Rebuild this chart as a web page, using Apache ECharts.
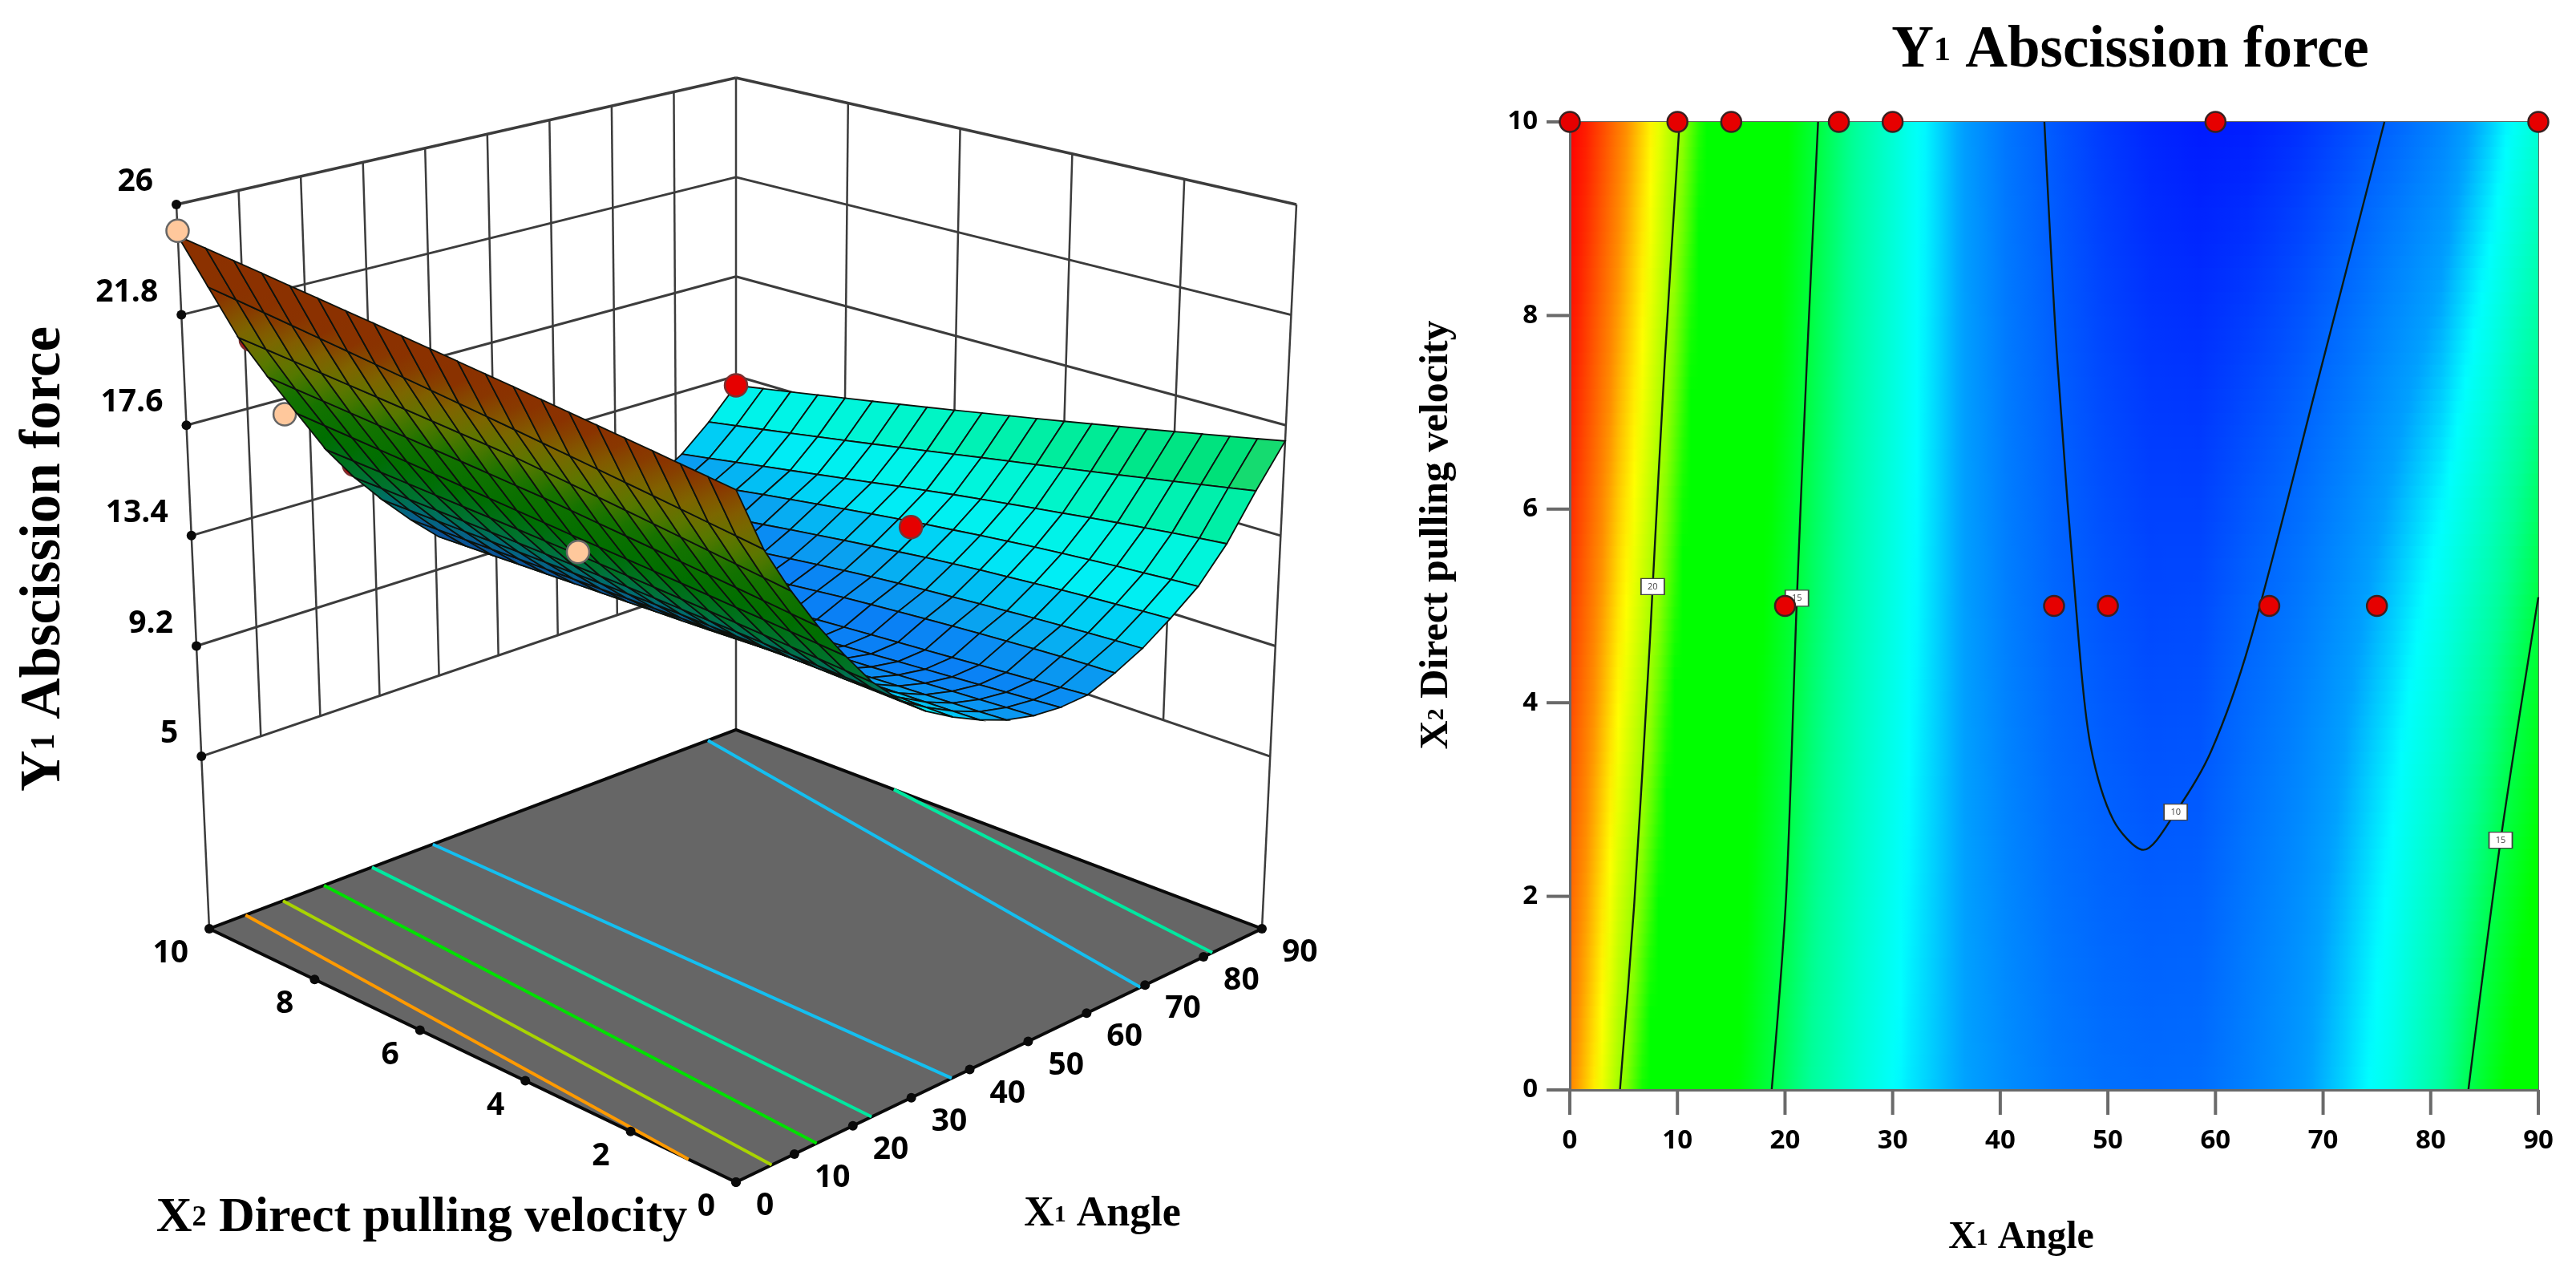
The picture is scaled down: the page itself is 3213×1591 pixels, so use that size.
<!DOCTYPE html>
<html><head><meta charset="utf-8"><style>html,body{margin:0;padding:0;background:#fff}#c{width:3213px;height:1591px}</style>
<script src="https://cdn.jsdelivr.net/npm/echarts@6/dist/echarts.min.js"></script></head><body><div id="c"></div>
<script>
// ---------- data ----------
const x1Ticks=[0,10,20,30,40,50,60,70,80,90];
const x2Ticks=[0,2,4,6,8,10];
const zTicks=[5,9.2,13.4,17.6,21.8,26];
const gridX1=[0,4.5,9,13.5,18,22.5,27,31.5,36,40.5,45,49.5,54,58.5,63,67.5,72,76.5,81,85.5,90];
const gridX2=[0,.5,1,1.5,2,2.5,3,3.5,4,4.5,5,5.5,6,6.5,7,7.5,8,8.5,9,9.5,10];
// one list per X1 value, running through gridX2
const surfaceZ=[
[22.40,22.52,22.64,22.76,22.88,23.00,23.12,23.24,23.36,23.48,23.60,23.72,23.84,23.96,24.08,24.20,24.32,24.44,24.56,24.68,24.80],
[20.00,20.13,20.26,20.39,20.52,20.65,20.78,20.91,21.04,21.17,21.30,21.43,21.56,21.69,21.82,21.95,22.08,22.21,22.34,22.47,22.60],
[18.20,18.33,18.46,18.59,18.72,18.85,18.98,19.11,19.24,19.37,19.50,19.59,19.68,19.77,19.86,19.95,20.04,20.13,20.22,20.31,20.40],
[16.60,16.71,16.82,16.93,17.04,17.15,17.26,17.37,17.48,17.59,17.70,17.79,17.88,17.97,18.06,18.15,18.24,18.33,18.42,18.51,18.60],
[15.20,15.28,15.36,15.44,15.52,15.60,15.68,15.76,15.84,15.92,16.00,16.09,16.18,16.27,16.36,16.45,16.54,16.63,16.72,16.81,16.90],
[13.90,13.97,14.04,14.11,14.18,14.25,14.32,14.39,14.46,14.53,14.60,14.66,14.72,14.78,14.84,14.90,14.96,15.02,15.08,15.14,15.20],
[12.90,12.95,13.00,13.05,13.10,13.15,13.20,13.25,13.30,13.35,13.40,13.44,13.48,13.52,13.56,13.60,13.64,13.68,13.72,13.76,13.80],
[12.10,12.13,12.16,12.19,12.22,12.25,12.28,12.31,12.34,12.37,12.40,12.42,12.44,12.46,12.48,12.50,12.52,12.54,12.56,12.58,12.60],
[11.50,11.50,11.50,11.50,11.50,11.50,11.50,11.50,11.50,11.50,11.50,11.50,11.50,11.50,11.50,11.50,11.50,11.50,11.50,11.50,11.50],
[11.00,10.97,10.94,10.91,10.88,10.85,10.82,10.79,10.76,10.73,10.70,10.68,10.66,10.64,10.62,10.60,10.58,10.56,10.54,10.52,10.50],
[10.60,10.55,10.51,10.46,10.42,10.37,10.33,10.28,10.24,10.19,10.15,10.12,10.09,10.06,10.03,10.00,9.97,9.94,9.91,9.88,9.85],
[10.35,10.30,10.24,10.19,10.13,10.08,10.02,9.97,9.91,9.86,9.80,9.75,9.70,9.65,9.60,9.55,9.50,9.45,9.40,9.35,9.30],
[10.25,10.18,10.11,10.04,9.97,9.90,9.83,9.76,9.69,9.62,9.55,9.49,9.42,9.36,9.29,9.23,9.16,9.10,9.03,8.97,8.90],
[10.30,10.23,10.16,10.09,10.02,9.95,9.88,9.81,9.74,9.67,9.60,9.51,9.42,9.33,9.24,9.15,9.06,8.97,8.88,8.79,8.70],
[10.70,10.67,10.63,10.58,10.52,10.46,10.39,10.32,10.24,10.16,10.07,9.96,9.85,9.73,9.60,9.47,9.33,9.19,9.05,8.90,8.75],
[11.20,11.16,11.11,11.05,10.99,10.92,10.85,10.77,10.69,10.60,10.50,10.39,10.27,10.14,10.01,9.87,9.73,9.58,9.42,9.24,9.05],
[11.90,11.85,11.79,11.73,11.66,11.58,11.50,11.42,11.32,11.22,11.10,10.98,10.85,10.71,10.57,10.42,10.27,10.10,9.93,9.75,9.55],
[12.70,12.64,12.57,12.50,12.42,12.34,12.25,12.15,12.04,11.92,11.80,11.67,11.53,11.38,11.23,11.07,10.91,10.74,10.56,10.33,10.10],
[13.90,13.80,13.69,13.57,13.45,13.32,13.18,13.04,12.90,12.75,12.60,12.43,12.26,12.08,11.90,11.72,11.54,11.36,11.17,10.98,10.80],
[15.50,15.32,15.14,14.96,14.78,14.60,14.42,14.24,14.06,13.88,13.70,13.51,13.32,13.13,12.94,12.75,12.56,12.37,12.18,11.99,11.80],
[17.00,16.80,16.60,16.40,16.20,16.00,15.80,15.60,15.40,15.20,15.00,14.80,14.60,14.40,14.20,14.00,13.80,13.60,13.40,13.20,13.00]];
// floor contours of the 3D panel: [X1, X2]
const floorOrange=[[0,0.9],[6.2,10]];
const floorLime=[[6.1,0],[12.6,10]];
const floorGreen=[[13.8,0],[19.6,10]];
const floorTeal=[[23.2,0],[27.8,10]];
const floorSky=[[36.9,0],[38.2,10]];
const floorSky2=[[69.2,0],[85.2,10]];
const floorTeal2=[[81.5,0],[90,7]];
// design points in 3D: [X1, X2, Z]
const behindRed=[[11,10,20.2],[27,10,14.3]];
const behindPeach=[[16,10,17]];
const frontPeach=[[0,10,25],[19,5,15.3]];
const frontRed=[[90,10,13],[74,5,11.9]];
// contour panel
const contour20=[[10.2,10],[8.83,7.54],[7.7,5.2],[7.44,4.63],[5.98,1.91],[4.66,0]];
const contour15L=[[23.07,10],[22,7.45],[21.1,5.08],[20.1,2],[18.76,0]];
const contour10=[[44.1,10],[45.3,7.54],[47.3,4.63],[48.4,3.55],[50.5,2.79],[53.3,2.48],[56.3,2.87],[59.6,3.5],[63.2,4.63],[69.45,7.3],[75.7,10]];
const contour15R=[[90,5.09],[86.5,2.58],[83.5,0]];
const contourLabels=[[7.7,5.2,'20'],[21.1,5.08,'15'],[56.3,2.87,'10'],[86.5,2.58,'15']];
const designPoints=[[0,10],[10,10],[15,10],[25,10],[30,10],[60,10],[90,10],[20,5],[45,5],[50,5],[65,5],[75,5]];
// colour scales: Z value -> colour
const scaleZ=[8.5,10,11.4,12.3,14,15,16,19,19.8,21,22.2,24,24.8];
const scaleRGB=[[0,16,255],[0,96,255],[0,160,255],[0,255,255],[0,255,150],[0,255,64],[0,255,0],[0,255,0],[144,255,0],[255,255,0],[255,144,0],[255,32,0],[255,0,0]];
const topZ=[10,10.6,11.3,12,13,14,15,16,16.6,17];
const topRGB=[[10,128,245],[10,160,240],[0,200,245],[0,238,245],[0,245,229],[0,245,192],[0,235,150],[0,225,120],[80,200,90],[160,190,70]];
const underZ=[10,11.5,12.8,14,16,18,19.5,21,22.5,25];
const underRGB=[[10,70,150],[10,90,150],[0,110,110],[0,115,50],[0,110,0],[20,115,0],[90,120,0],[128,100,0],[138,50,0],[140,48,0]];

// ---------- helpers ----------
const zFloor=-1.56, zTop=26;
const F0=[918,1474],L0=[261,1158],R0=[1574,1158],B0=[918,910];
const F1=[918,481],L1=[220,255],R1=[1617,255],B1=[918,97];
function blin(f,l,r,b,u,v,k){return f[k]*(1-u)*(1-v)+r[k]*u*(1-v)+l[k]*(1-u)*v+b[k]*u*v;}
function project(x1,x2,z){
  const u=x1/90,v=x2/10,h=(z-zFloor)/(zTop-zFloor);
  return [0,1].map(k=>blin(F0,L0,R0,B0,u,v,k)*(1-h)+blin(F1,L1,R1,B1,u,v,k)*h);
}
function ramp(zs,cs,z){
  if(z<=zs[0])return cs[0];
  for(let i=1;i<zs.length;i++){if(z<=zs[i]){const t=(z-zs[i-1])/(zs[i]-zs[i-1]);
    return cs[i].map((c,k)=>cs[i-1][k]+(c-cs[i-1][k])*t);}}
  return cs[cs.length-1];
}
const css=c=>`rgb(${Math.round(c[0])},${Math.round(c[1])},${Math.round(c[2])})`;
const LAB='"Open Sans",Roboto,sans-serif', SER='"Liberation Serif",serif';
const base3D={type:'custom',xAxisIndex:0,yAxisIndex:0,silent:true,animation:false};

// wall grid segments [x1a,x2a,za,x1b,x2b,zb,width]
const segs=[];
zTicks.forEach(z=>{segs.push([0,10,z,90,10,z,z===26?3.5:3]);segs.push([90,10,z,90,0,z,z===26?3.5:3]);});
x1Ticks.forEach(x=>{if(x>0&&x<90)segs.push([x,10,5,x,10,26,2.5]);});
x2Ticks.forEach(x=>{if(x>0&&x<10)segs.push([90,x,5,90,x,26,2.5]);});
[[0,10],[90,10],[90,0]].forEach(p=>segs.push([p[0],p[1],zFloor,p[0],p[1],26,2.5]));

const floorLines=[[floorOrange,'#ff9a00'],[floorLime,'#a8d400'],[floorGreen,'#00e000'],[floorTeal,'#00e8a0'],[floorSky,'#14bff0'],[floorSky2,'#14bff0'],[floorTeal2,'#00e8a0']];

const quads=[];
for(let i=gridX1.length-2;i>=0;i--)for(let j=gridX2.length-2;j>=0;j--)quads.push([i,j]);

function pts(api,list){return list.map(p=>api.coord(project(p[0],p[1],p[2])));}
function mark3D(list,fill,stroke){return Object.assign({},base3D,{data:list,renderItem:(p,api)=>{
  const c=api.coord(project(api.value(0),api.value(1),api.value(2)));
  return {type:'circle',shape:{cx:c[0],cy:c[1],r:14},style:{fill:fill,stroke:stroke,lineWidth:2.5}};}});}

// tick labels of the 3D box
const tickLabels=[];
zTicks.forEach(z=>tickLabels.push([0,10,z,-29,-28,'right',String(z)]));
x2Ticks.forEach(x=>tickLabels.push([0,x,zFloor,-26,31,'right',String(x)]));
x1Ticks.forEach(x=>tickLabels.push([x,0,zFloor,25,30,'left',String(x)]));
const tickDots=[];
zTicks.forEach(z=>tickDots.push([0,10,z]));
x2Ticks.forEach(x=>tickDots.push([0,x,zFloor]));
x1Ticks.forEach(x=>tickDots.push([x,0,zFloor]));

// colour strips of the contour panel
const stripCount=80,strips=[];
for(let s=0;s<stripCount;s++)strips.push([s/stripCount*10,(s+1)/stripCount*10]);
function zBetween(i,x2){const t=x2/0.5,j=Math.min(Math.floor(t),19),f=t-j;return surfaceZ[i][j]*(1-f)+surfaceZ[i][j+1]*f;}

// outward ticks of the contour panel: [X1, X2, dx, dy]
const panelTicks=[...x1Ticks.map(x=>[x,0,0,31]),...x2Ticks.map(y=>[0,y,-29,0])];

const option={backgroundColor:'#fff',animation:false,
 grid:[{left:0,top:0,width:3213,height:1591,show:false},
       {left:1958,top:152,width:1208,height:1207,show:true,borderColor:'#666',borderWidth:2,backgroundColor:'transparent',outerBoundsMode:'none'}],
 xAxis:[{gridIndex:0,type:'value',min:0,max:3213,show:false},
  {gridIndex:1,type:'value',position:'bottom',min:0,max:90,interval:10,splitLine:{show:false},z:6,
   axisLine:{show:true,onZero:false,lineStyle:{color:'#6a6a6a',width:3}},axisTick:{show:false},
   axisLabel:{show:true,margin:47,color:'#000',fontFamily:LAB,fontWeight:700,fontSize:33}}],
 yAxis:[{gridIndex:0,type:'value',min:0,max:1591,inverse:true,show:false},
  {gridIndex:1,type:'value',position:'left',min:0,max:10,interval:2,splitLine:{show:false},z:6,
   axisLine:{show:true,onZero:false,lineStyle:{color:'#6a6a6a',width:3}},axisTick:{show:false},
   axisLabel:{show:true,margin:40,color:'#000',fontFamily:LAB,fontWeight:700,fontSize:33}}],
 series:[
  // walls
  Object.assign({},base3D,{data:segs,renderItem:(p,api)=>{
    const a=api.coord(project(api.value(0),api.value(1),api.value(2))),b=api.coord(project(api.value(3),api.value(4),api.value(5)));
    return {type:'line',shape:{x1:a[0],y1:a[1],x2:b[0],y2:b[1]},style:{stroke:'#3c3c3c',lineWidth:api.value(6)}};}}),
  // floor
  Object.assign({},base3D,{data:[[0]],renderItem:(p,api)=>({type:'polygon',shape:{points:pts(api,[[0,0,zFloor],[90,0,zFloor],[90,10,zFloor],[0,10,zFloor]])},style:{fill:'#666666',stroke:'#0a0a0a',lineWidth:4}})}),
  // floor contours
  Object.assign({},base3D,{data:floorLines.map((l,i)=>[i]),renderItem:(p,api)=>{
    const l=floorLines[api.value(0)];
    return {type:'polyline',shape:{points:pts(api,l[0].map(q=>[q[0],q[1],zFloor]))},style:{stroke:l[1],lineWidth:4,fill:'none'}};}}),
  // ticks
  Object.assign({},base3D,{data:tickDots,renderItem:(p,api)=>{
    const c=api.coord(project(api.value(0),api.value(1),api.value(2)));
    return {type:'circle',shape:{cx:c[0],cy:c[1],r:6},style:{fill:'#0a0a0a'}};}}),
  Object.assign({},base3D,{data:tickLabels.map((t,i)=>[i]),renderItem:(p,api)=>{
    const t=tickLabels[api.value(0)],c=api.coord(project(t[0],t[1],t[2]));
    return {type:'text',style:{x:c[0]+t[3],y:c[1]+t[4],text:t[6],fill:'#000',font:'700 39px '+LAB,align:t[5],textAlign:t[5],verticalAlign:'middle',textVerticalAlign:'middle'}};}}),
  // points behind the surface
  mark3D(behindRed,'#e60000','#7a3030'),
  mark3D(behindPeach,'#ffc89c','#666'),
  // surface, far cells first
  Object.assign({},base3D,{data:quads,renderItem:(p,api)=>{
    const i=api.value(0),j=api.value(1);
    const q=[[i,j],[i+1,j],[i+1,j+1],[i,j+1]].map(k=>api.coord(project(gridX1[k[0]],gridX2[k[1]],surfaceZ[k[0]][k[1]])));
    let area=0;for(let k=0;k<4;k++){const a=q[k],b=q[(k+1)%4];area+=a[0]*b[1]-b[0]*a[1];}
    const z=(surfaceZ[i][j]+surfaceZ[i+1][j]+surfaceZ[i+1][j+1]+surfaceZ[i][j+1])/4;
    let fill;
    if(area>0){
      const z0=(surfaceZ[i][j]+surfaceZ[i][j+1])/2,z1=(surfaceZ[i+1][j]+surfaceZ[i+1][j+1])/2,stops=[];
      for(let s=0;s<=4;s++)stops.push({offset:s/4,color:css(ramp(underZ,underRGB,z0+(z1-z0)*s/4))});
      fill=new echarts.graphic.LinearGradient((q[0][0]+q[3][0])/2,(q[0][1]+q[3][1])/2,(q[1][0]+q[2][0])/2,(q[1][1]+q[2][1])/2,stops,true);
    } else fill=css(ramp(topZ,topRGB,z));
    return {type:'polygon',shape:{points:q},style:{fill:fill,stroke:'#0d120d',lineWidth:1.8}};}}),
  // points in front
  mark3D(frontPeach,'#ffc89c','#666'),
  mark3D(frontRed,'#e60000','#7a3030'),
  // contour panel: colour field
  {type:'custom',xAxisIndex:1,yAxisIndex:1,silent:true,animation:false,z:1,data:strips,renderItem:(p,api)=>{
    const lo=api.value(0),hi=api.value(1),a=api.coord([0,hi]),b=api.coord([90,lo]),mid=(lo+hi)/2,stops=[];
    for(let i=0;i<gridX1.length-1;i++){
      const z0=zBetween(i,mid),z1=zBetween(i+1,mid);
      for(let s=0;s<6;s++){const f=s/6;stops.push({offset:(gridX1[i]+4.5*f)/90,color:css(ramp(scaleZ,scaleRGB,z0*(1-f)+z1*f))});}
    }
    stops.push({offset:1,color:css(ramp(scaleZ,scaleRGB,zBetween(20,mid)))});
    return {type:'rect',shape:{x:a[0],y:a[1],width:b[0]-a[0],height:b[1]-a[1]+1},style:{fill:new echarts.graphic.LinearGradient(0,0,1,0,stops)}};}},
  // contour panel: ticks
  {type:'custom',xAxisIndex:1,yAxisIndex:1,silent:true,animation:false,z:20,clip:false,data:panelTicks,renderItem:(p,api)=>{
    const c=api.coord([api.value(0),api.value(1)]);
    const d=[panelTicks[p.dataIndex][2],panelTicks[p.dataIndex][3]];
    return {type:'polygon',shape:{points:[[c[0]-(d[1]?2:0),c[1]-(d[0]?2:0)],[c[0]+(d[1]?2:0),c[1]+(d[0]?2:0)],[c[0]+d[0]+(d[1]?2:0),c[1]+d[1]+(d[0]?2:0)],[c[0]+d[0]-(d[1]?2:0),c[1]+d[1]-(d[0]?2:0)]]},style:{fill:'#6a6a6a'}};}},
  ...[contour20,contour15L,contour10,contour15R].map(d=>({type:'line',xAxisIndex:1,yAxisIndex:1,data:d,smooth:0.3,showSymbol:false,silent:true,z:3,clip:false,lineStyle:{color:'#0c1c14',width:2.4}})),
  {type:'scatter',xAxisIndex:1,yAxisIndex:1,data:contourLabels,symbol:'rect',symbolSize:[29,20],silent:true,z:7,clip:false,
   itemStyle:{color:'#fff',opacity:1,borderColor:'#444',borderWidth:1.5},label:{show:true,position:'inside',formatter:p=>p.value[2],fontSize:11,color:'#444',fontFamily:LAB}},
  {type:'scatter',xAxisIndex:1,yAxisIndex:1,data:designPoints,symbol:'circle',symbolSize:25,silent:true,z:21,clip:false,
   itemStyle:{color:'#e60000',opacity:1,borderColor:'#3a2020',borderWidth:2.5}}
 ],
 graphic:[
  {type:'text',x:56,y:697,rotation:Math.PI/2,silent:true,style:{text:'{a|Y}{b|1}{a| Abscission force}',align:'center',verticalAlign:'middle',rich:{a:{font:'700 71px '+SER,fill:'#000'},b:{font:'700 42px '+SER,fill:'#000'}}}},
  {type:'text',x:526,y:1519,silent:true,style:{text:'{a|X}{b|2}{a| Direct pulling velocity}',align:'center',verticalAlign:'middle',rich:{a:{font:'700 62px '+SER,fill:'#000'},b:{font:'700 36px '+SER,fill:'#000'}}}},
  {type:'text',x:1375,y:1515,silent:true,style:{text:'{a|X}{b|1}{a| Angle}',align:'center',verticalAlign:'middle',rich:{a:{font:'700 52px '+SER,fill:'#000'},b:{font:'700 30px '+SER,fill:'#000'}}}},
  {type:'text',x:2657,y:64,silent:true,style:{text:'{a|Y}{b|1}{a| Abscission force}',align:'center',verticalAlign:'middle',rich:{a:{font:'700 73px '+SER,fill:'#000'},b:{font:'700 42px '+SER,fill:'#000'}}}},
  {type:'text',x:2521,y:1544,silent:true,style:{text:'{a|X}{b|1}{a| Angle}',align:'center',verticalAlign:'middle',rich:{a:{font:'700 48px '+SER,fill:'#000'},b:{font:'700 30px '+SER,fill:'#000'}}}},
  {type:'text',x:1792,y:667,rotation:Math.PI/2,silent:true,style:{text:'{a|X}{b|2}{a| Direct pulling velocity}',align:'center',verticalAlign:'middle',rich:{a:{font:'700 50px '+SER,fill:'#000'},b:{font:'700 30px '+SER,fill:'#000'}}}}
 ]
};
const chart=echarts.init(document.getElementById('c'),null,{renderer:'canvas',width:3213,height:1591});
chart.setOption(option);
</script></body></html>
